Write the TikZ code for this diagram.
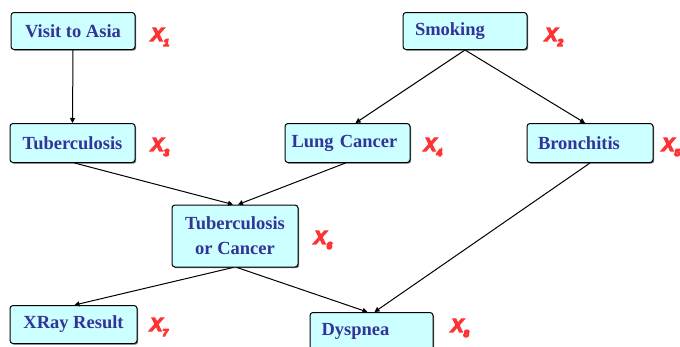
\documentclass[tikz,border=0pt]{standalone}
\usepackage{fontspec}
\setmainfont{Liberation Serif}
\newfontfamily\labfont{Liberation Sans}
\usetikzlibrary{arrows.meta,shadows}
\definecolor{boxfill}{HTML}{CCFFFF}
\definecolor{boxtext}{HTML}{333399}
\definecolor{labred}{HTML}{FF3333}
% heavy slanted variable name X with a small index
\newcommand{\varname}[1]{%
  \special{pdf:literal direct 1 0.2 0.2 RG 2 Tr 1.2 w}%
  X\raisebox{-5pt}{\fontsize{10}{10}\selectfont #1}%
  \special{pdf:literal direct 0 Tr}}
\tikzset{
  var/.style={draw=black, line width=1pt, rounded corners=3pt, fill=boxfill,
    drop shadow={shadow xshift=1.2pt, shadow yshift=-1.2pt, fill=black!55, opacity=1},
    text=boxtext, font=\fontsize{18.5}{25}\selectfont\bfseries,
    inner sep=0pt, align=center},
  varl/.style={var, text width=#1, align=left},
  lab/.style={text=labred, font=\labfont\fontsize{19}{22}\selectfont\bfseries\itshape, inner sep=0pt},
  link/.style={draw=black, line width=1pt, -{Triangle[length=5pt,width=5pt]}}
}
\begin{document}
\begin{tikzpicture}[x=1pt,y=-1pt]
\useasboundingbox (0,0) rectangle (680,346);
% variable boxes
\node[var, minimum width=124pt, minimum height=37pt] (asia) at (73,31) {Visit to Asia};
\node[varl=100pt, minimum width=124pt, minimum height=37pt] (smoke) at (465,31) {Smoking};
\node[var, minimum width=125pt, minimum height=39pt] (tub) at (72.5,143) {Tuberculosis};
\node[varl=112pt, minimum width=125pt, minimum height=39pt] (lung) at (347.5,143) {Lung Cancer};
\node[varl=104pt, minimum width=126pt, minimum height=39pt] (bron) at (590,143) {Bronchitis};
\node[var, minimum width=126pt, minimum height=62pt] (either) at (235,236) {Tuberculosis\\or Cancer};
\node[var, minimum width=127pt, minimum height=38pt] (xray) at (73.5,324.5) {XRay Result};
\node[varl=100pt, minimum width=123pt, minimum height=38pt] (dysp) at (371.5,331.5) {Dyspnea};
% variable names
\node[lab] (x1) at (160,37) {\varname{1}};
\node[lab] (x2) at (554,37) {\varname{2}};
\node[lab] (x3) at (160,147) {\varname{3}};
\node[lab] (x4) at (433,147) {\varname{4}};
\node[lab] (x5) at (671,147) {\varname{5}};
\node[lab] (x6) at (323,240) {\varname{6}};
\node[lab] (x7) at (159,327) {\varname{7}};
\node[lab] (x8) at (460,328) {\varname{8}};
% dependencies
\draw[link] (asia.south) -- (tub.north);
\draw[link] (smoke.south) -- ([xshift=8pt]lung.north);
\draw[link] (smoke.south) -- ([xshift=-5pt]bron.north);
\draw[link] ([xshift=2pt]tub.south) -- ([xshift=-2pt]either.north);
\draw[link] ([xshift=-2pt]lung.south) -- ([xshift=3pt]either.north);
\draw[link] ([xshift=-2pt]either.south) -- ([xshift=1pt]xray.north);
\draw[link] ([xshift=2pt]either.south) -- ([xshift=-4pt]dysp.north);
\draw[link] (bron.south) -- ([xshift=3pt]dysp.north);
\end{tikzpicture}
\end{document}
